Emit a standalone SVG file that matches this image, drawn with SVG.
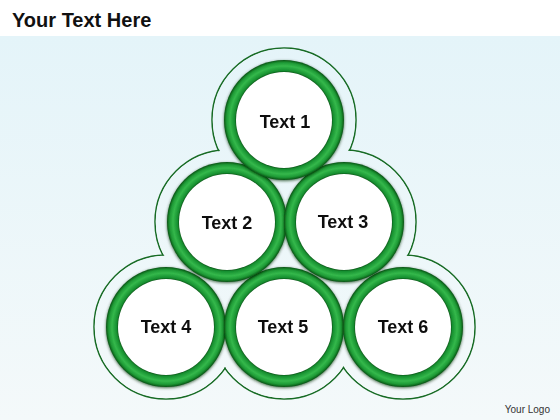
<svg xmlns="http://www.w3.org/2000/svg" width="560" height="420" viewBox="0 0 560 420">
<defs>
<linearGradient id="bg" gradientUnits="userSpaceOnUse" x1="0" y1="36" x2="0" y2="420">
<stop offset="0" stop-color="#e4f4f9"/>
<stop offset="1" stop-color="#f4f9fa"/>
</linearGradient>
<radialGradient id="ringG" cx="0.5" cy="0.5" r="0.5">
<stop offset="0.79" stop-color="#0a4a14"/>
<stop offset="0.825" stop-color="#179030"/>
<stop offset="0.9" stop-color="#34b84b"/>
<stop offset="0.955" stop-color="#1f9a36"/>
<stop offset="0.985" stop-color="#0f6c1f"/>
<stop offset="1" stop-color="#0a5015"/>
</radialGradient>
<filter id="sh" x="-20%" y="-20%" width="140%" height="140%">
<feGaussianBlur in="SourceAlpha" stdDeviation="1.5"/>
<feOffset dx="0" dy="0.5" result="b"/>
<feFlood flood-color="#06300c" flood-opacity="0.7"/>
<feComposite in2="b" operator="in"/>
<feMerge><feMergeNode/><feMergeNode in="SourceGraphic"/></feMerge>
</filter>
</defs>
<style>
.ol{fill:none;stroke:#176b24;stroke-width:1.5}
.of{fill:url(#bg)}
.ring{fill:url(#ringG)}
.inner{fill:#ffffff}
.lbl{font-family:"Liberation Sans",Arial,sans-serif;font-weight:bold;font-size:18px;fill:#111;text-anchor:middle}
</style>
<rect x="0" y="0" width="560" height="420" fill="#ffffff"/>
<rect x="0" y="36" width="560" height="384" fill="url(#bg)"/>
<text x="12" y="27" font-family="Liberation Sans,Arial,sans-serif" font-weight="bold" font-size="20" fill="#111">Your Text Here</text>
<text x="550" y="413" font-family="Liberation Sans,Arial,sans-serif" font-size="10" fill="#333" text-anchor="end">Your Logo</text>
<g id="outline">
<circle class="ol" cx="284" cy="120" r="72"/>
<circle class="ol" cx="227" cy="222" r="72"/>
<circle class="ol" cx="344" cy="222" r="72"/>
<circle class="ol" cx="166" cy="327" r="72"/>
<circle class="ol" cx="284" cy="327" r="72"/>
<circle class="ol" cx="403" cy="327" r="72"/>
<circle class="of" cx="284" cy="120" r="71.2"/>
<circle class="of" cx="227" cy="222" r="71.2"/>
<circle class="of" cx="344" cy="222" r="71.2"/>
<circle class="of" cx="166" cy="327" r="71.2"/>
<circle class="of" cx="284" cy="327" r="71.2"/>
<circle class="of" cx="403" cy="327" r="71.2"/>
</g>
<g id="connectors"></g>
<g id="node4" filter="url(#sh)">
<circle class="ring" cx="166" cy="327" r="60"/>
<circle class="inner" cx="166" cy="327" r="48"/>
<text class="lbl" x="166" y="333">Text 4</text>
</g>
<g id="node5" filter="url(#sh)">
<circle class="ring" cx="284" cy="327" r="60"/>
<circle class="inner" cx="284" cy="327" r="48"/>
<text class="lbl" x="283" y="333">Text 5</text>
</g>
<g id="node6" filter="url(#sh)">
<circle class="ring" cx="403" cy="327" r="60"/>
<circle class="inner" cx="403" cy="327" r="48"/>
<text class="lbl" x="403" y="333">Text 6</text>
</g>
<g id="node2" filter="url(#sh)">
<circle class="ring" cx="227" cy="222" r="60"/>
<circle class="inner" cx="227" cy="222" r="48"/>
<text class="lbl" x="227" y="229">Text 2</text>
</g>
<g id="node3" filter="url(#sh)">
<circle class="ring" cx="344" cy="222" r="60"/>
<circle class="inner" cx="344" cy="222" r="48"/>
<text class="lbl" x="343" y="228">Text 3</text>
</g>
<g id="node1" filter="url(#sh)">
<circle class="ring" cx="284" cy="120" r="60"/>
<circle class="inner" cx="284" cy="120" r="48"/>
<text class="lbl" x="285" y="128">Text 1</text>
</g>
</svg>
